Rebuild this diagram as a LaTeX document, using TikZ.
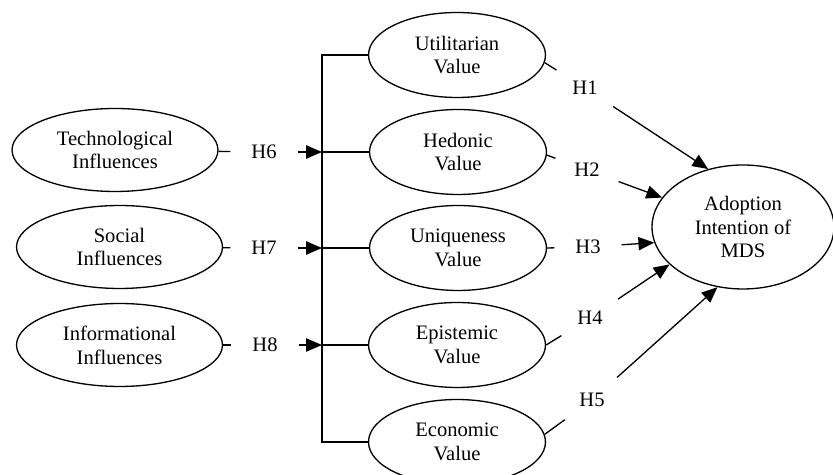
\documentclass[tikz,border=0pt]{standalone}
\usepackage{fontspec}
\setmainfont{Liberation Serif}
\usetikzlibrary{shapes.geometric, arrows.meta}

\begin{document}
\begin{tikzpicture}[x=0.02cm, y=-0.02cm, line width=0.75pt,
    font=\fontsize{11.7}{13.6}\selectfont,
    construct/.style={ellipse, draw, align=center, inner sep=0pt},
    hyp/.style={circle, minimum size=1.32cm, inner sep=0pt},
    >={Triangle[length=9pt, width=7.5pt]}]
  \useasboundingbox (0,0) rectangle (833,475);

  % Influences
  \node[construct, minimum width=4.12cm, minimum height=1.66cm] (tech) at (115,150) {Technological\\Influences};
  \node[construct, minimum width=4.12cm, minimum height=1.66cm] (soc) at (119.5,247) {Social\\Influences};
  \node[construct, minimum width=4.12cm, minimum height=1.66cm] (info) at (119.5,345) {Informational\\Influences};

  % Perceived values
  \node[construct, minimum width=3.54cm, minimum height=1.7cm] (util) at (457,55) {Utilitarian\\Value};
  \node[construct, minimum width=3.54cm, minimum height=1.7cm] (hed) at (458,152) {Hedonic\\Value};
  \node[construct, minimum width=3.54cm, minimum height=1.7cm] (uniq) at (458,248) {Uniqueness\\Value};
  \node[construct, minimum width=3.54cm, minimum height=1.7cm] (epi) at (457,345) {Epistemic\\Value};
  \node[construct, minimum width=3.54cm, minimum height=1.7cm] (eco) at (457,442) {Economic\\Value};

  % Outcome
  \node[construct, minimum width=3.64cm, minimum height=2.48cm] (adopt) at (743,227) {Adoption\\Intention of\\MDS};

  % Bus
  \coordinate (bt) at (322,55);
  \coordinate (bb) at (322,442);
  \coordinate (j6) at (322,152);
  \coordinate (j7) at (322,248);
  \coordinate (j8) at (322,345);
  \draw (util.west) -- (bt) -- (bb) -- (eco.west);
  \draw (hed.west) -- (j6);
  \draw (uniq.west) -- (j7);
  \draw (epi.west) -- (j8);

  % H6 - H8
  \node[hyp] (h6) at (264,152) {H6};
  \node[hyp] (h7) at (264,248) {H7};
  \node[hyp] (h8) at (265,345) {H8};
  \draw (tech) -- (h6);
  \draw[->] (h6) -- (j6);
  \draw (soc) -- (h7);
  \draw[->] (h7) -- (j7);
  \draw (info) -- (h8);
  \draw[->] (h8) -- (j8);

  % H1 - H5
  \node[hyp] (h1) at (585,88) {H1};
  \node[hyp] (h2) at (587,170) {H2};
  \node[hyp] (h3) at (588,247) {H3};
  \node[hyp] (h4) at (590,318) {H4};
  \node[hyp] (h5) at (592,400) {H5};
  \draw (util.-5) -- (h1);
  \draw[->] (h1) -- (adopt.121);
  \draw (hed.-2) -- (h2);
  \draw[->] (h2) -- (adopt.160);
  \draw (uniq.east) -- (h3);
  \draw[->] (h3) -- (adopt.190);
  \draw (epi.east) -- (h4);
  \draw[->] (h4) -- (adopt.207);
  \draw (eco.5) -- (h5);
  \draw[->] (h5) -- (adopt.247);
\end{tikzpicture}
\end{document}
